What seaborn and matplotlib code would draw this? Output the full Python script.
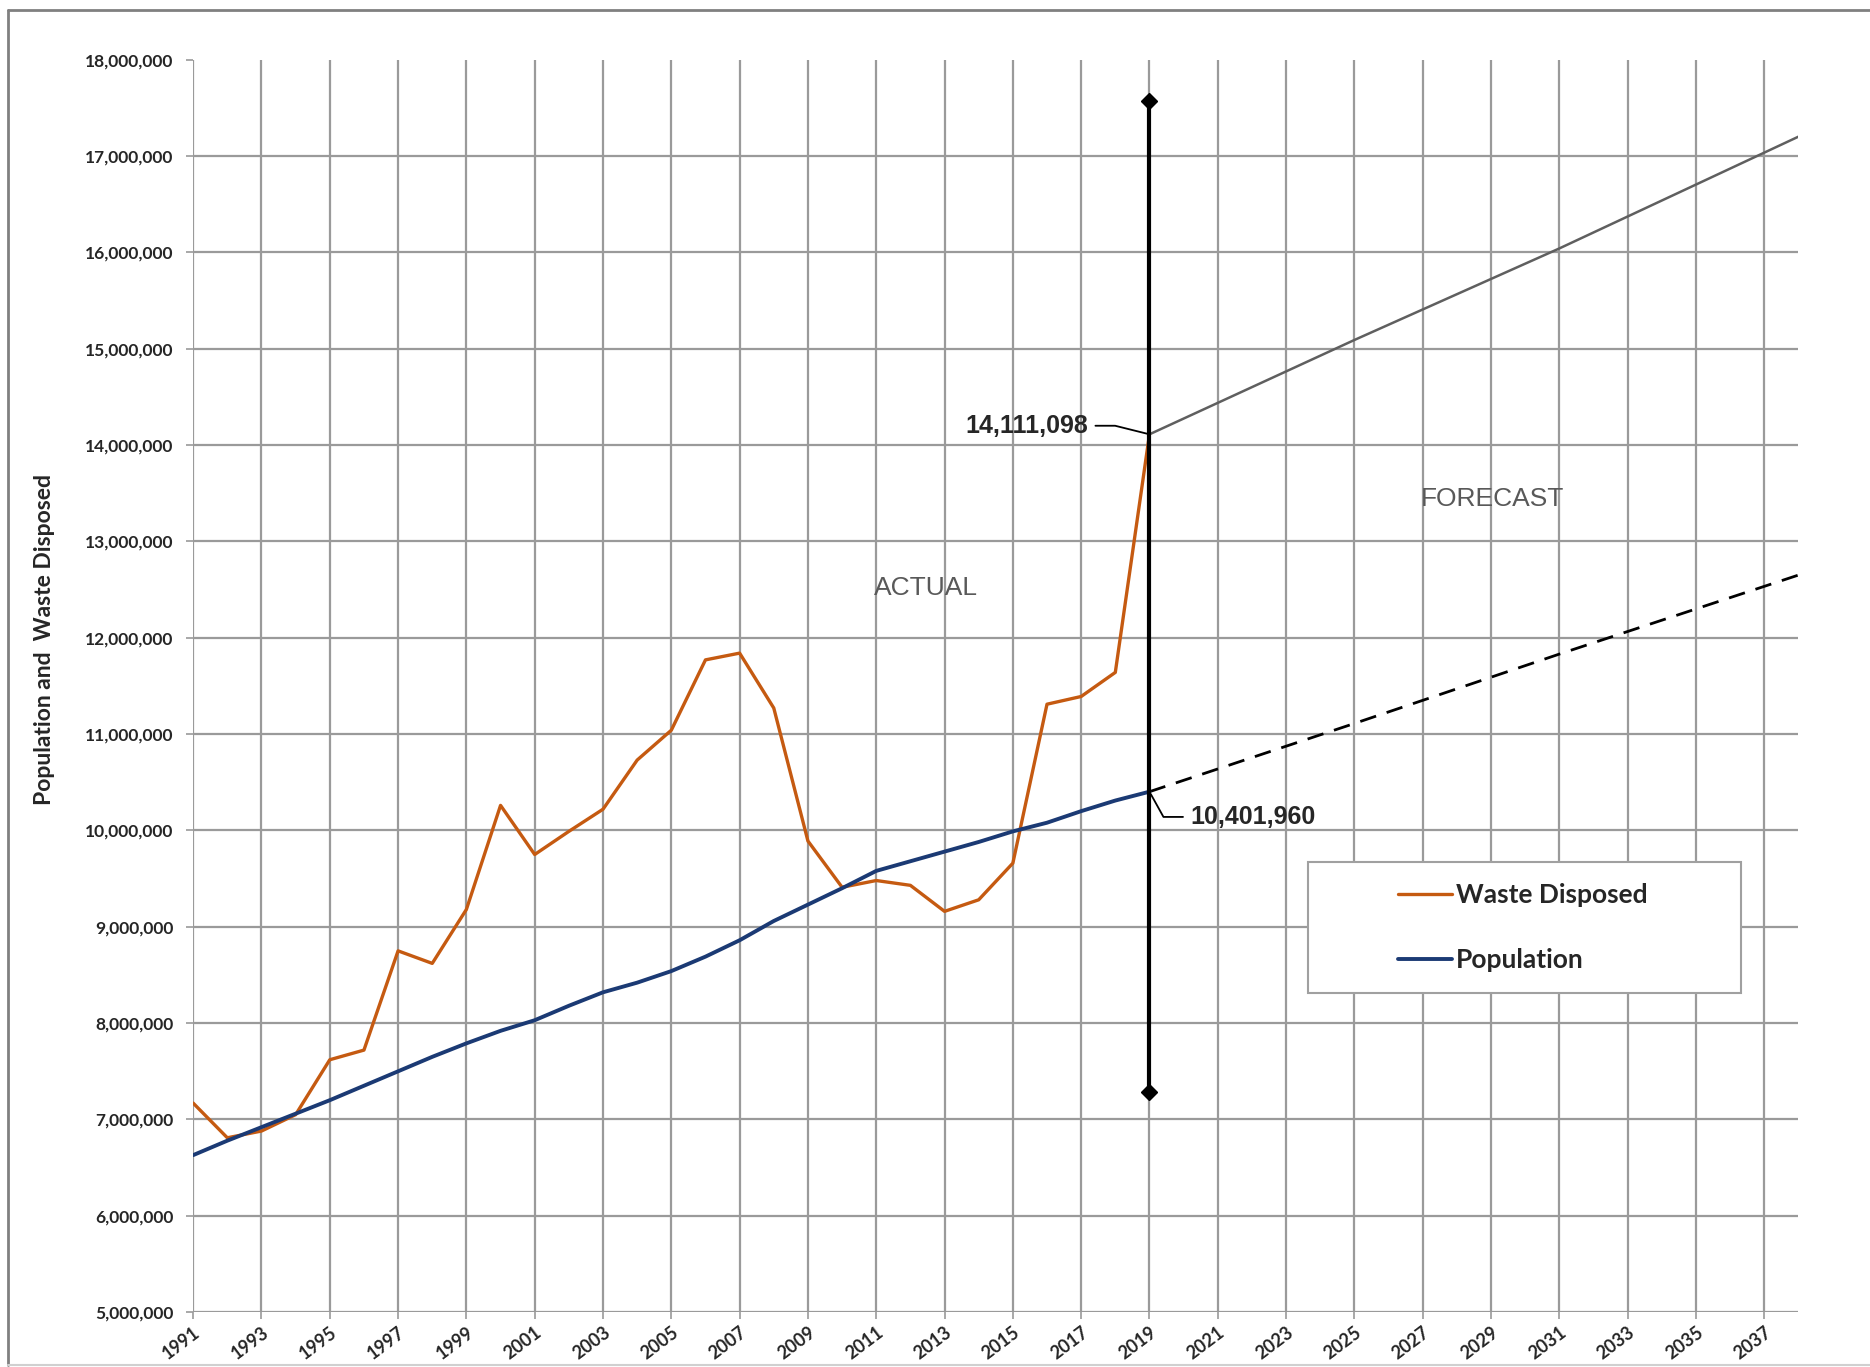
import matplotlib
matplotlib.use("Agg")
import matplotlib.pyplot as plt
from matplotlib.lines import Line2D
from matplotlib.patches import Rectangle
from matplotlib import ticker
import pandas as pd
import seaborn as sns

# %% DATA
years_actual = list(range(1991, 2020))
waste_disposed = [
    7.17e6, 6.81e6, 6.88e6, 7.05e6, 7.62e6, 7.72e6, 8.75e6, 8.62e6, 9.18e6, 10.26e6,
    9.75e6, 9.99e6, 10.22e6, 10.73e6, 11.04e6, 11.77e6, 11.84e6, 11.27e6, 9.89e6, 9.41e6,
    9.48e6, 9.43e6, 9.16e6, 9.28e6, 9.66e6, 11.31e6, 11.39e6, 11.64e6, 14111098,
]
population = [
    6.63e6, 6.78e6, 6.92e6, 7.06e6, 7.20e6, 7.35e6, 7.50e6, 7.65e6, 7.79e6, 7.92e6,
    8.03e6, 8.18e6, 8.32e6, 8.42e6, 8.54e6, 8.69e6, 8.86e6, 9.06e6, 9.23e6, 9.40e6,
    9.58e6, 9.68e6, 9.78e6, 9.88e6, 9.99e6, 10.08e6, 10.20e6, 10.31e6, 10401960,
]

years_forecast = [2019, 2025, 2031, 2038]
waste_forecast = [14111098, 15.09e6, 16.04e6, 17.20e6]
population_forecast = [10401960, 11.11e6, 11.83e6, 12.65e6]

divider_year = 2019
divider_span = [7.28e6, 17.57e6]

x_ticks = list(range(1991, 2038, 2))
y_ticks = list(range(5_000_000, 18_000_001, 1_000_000))

actual = pd.DataFrame({"year": years_actual, "waste": waste_disposed, "population": population})
forecast = pd.DataFrame({"year": years_forecast, "waste": waste_forecast, "population": population_forecast})

# %% STYLE
orange = "#C55A11"
navy = "#1B3A74"
grid_gray = "#9A9A9A"

sns.set_theme(style="white")
plt.rcParams["font.family"] = ["Lato", "DejaVu Sans"]

fig = plt.figure(figsize=(18.7, 13.67), dpi=100)
ax = fig.add_axes([0.1033, 0.0401, 0.8584, 0.9163])

# %% LINES
sns.lineplot(data=forecast, x="year", y="waste", color="#5F5F5F", lw=1.8, ax=ax, legend=False, zorder=3)
sns.lineplot(data=forecast, x="year", y="population", color="black", lw=2.0, ax=ax,
             legend=False, zorder=3, linestyle=(0, (6, 4)))
sns.lineplot(data=actual, x="year", y="waste", color=orange, lw=2.4, ax=ax,
             label="Waste Disposed", zorder=4)
sns.lineplot(data=actual, x="year", y="population", color=navy, lw=2.8, ax=ax,
             label="Population", zorder=4)

# Actual / forecast divider
ax.plot([divider_year, divider_year], divider_span, color="black", lw=3, marker="D",
        markersize=8, zorder=5)

# %% AXES
ax.set_xlim(1991, 2038)
ax.set_ylim(5_000_000, 18_000_000)
ax.set_xticks(x_ticks)
ax.set_yticks(y_ticks)
ax.yaxis.set_major_formatter(ticker.FuncFormatter(lambda v, _: f"{int(v):,}"))
for s in ax.spines.values():
    s.set_visible(False)
ax.grid(True, color=grid_gray, lw=1.6, zorder=0)
ax.yaxis.get_gridlines()[-1].set_visible(False)
ax.set_axisbelow(True)
ax.tick_params(axis="both", which="major", length=5, width=1.2, color=grid_gray,
               labelsize=12.5, bottom=True, left=True)
ax.tick_params(axis="y", pad=9)
ax.tick_params(axis="x", pad=3, labelsize=13)
for lbl in ax.get_xticklabels():
    lbl.set_rotation(37)
    lbl.set_ha("right")
    lbl.set_va("top")
    lbl.set_rotation_mode("anchor")
    lbl.set_fontweight("bold")
for lbl in ax.get_yticklabels():
    lbl.set_fontweight("bold")
ax.set_xlabel("")
ax.set_ylabel("")
fig.text(0.0236, 0.532, "Population and  Waste Disposed", rotation=90, ha="center", va="center",
         fontsize=16.5, fontweight="bold")

# %% ANNOTATIONS
ax.annotate(f"{waste_disposed[-1]:,}", xy=(divider_year, waste_disposed[-1]),
            xytext=(2017.2, 14.2e6), ha="right", va="center", fontsize=18, fontweight="bold",
            family="Liberation Sans",
            arrowprops=dict(arrowstyle="-", color="black", lw=1.3, shrinkA=3, shrinkB=0,
                            connectionstyle="angle,angleA=0,angleB=166,rad=0"))
ax.annotate(f"{population[-1]:,}", xy=(divider_year, population[-1]),
            xytext=(2020.2, 10.14e6), ha="left", va="center", fontsize=18, fontweight="bold",
            family="Liberation Sans",
            arrowprops=dict(arrowstyle="-", color="black", lw=1.3, shrinkA=3, shrinkB=2,
                            connectionstyle="angle,angleA=180,angleB=-61,rad=0"))
ax.text(2012.47, 12.52e6, "ACTUAL", ha="center", va="center", fontsize=19,
        color="#595959", family="Liberation Sans")
ax.text(2029.05, 13.44e6, "FORECAST", ha="center", va="center", fontsize=19,
        color="#595959", family="Liberation Sans")

# %% LEGEND
box = Rectangle((0.6996, 0.2736), 0.2314, 0.0958, transform=fig.transFigure,
                facecolor="white", edgecolor="#A0A0A0", lw=1.5, zorder=6, clip_on=False)
ax.add_patch(box)
handles, labels = ax.get_legend_handles_labels()
leg = ax.legend(handles, labels, loc="upper left", bbox_to_anchor=(0.7475, 0.354),
                bbox_transform=fig.transFigure, frameon=False, borderpad=0, borderaxespad=0,
                handlelength=2.05, handletextpad=0.15, labelspacing=1.55,
                prop={"size": 19, "weight": "bold"})
leg.set_zorder(7)

# %% FRAME
fig.add_artist(Line2D([0.0043, 1.0], [0.993, 0.993], transform=fig.transFigure, color="#808080", lw=2))
fig.add_artist(Line2D([0.0043, 0.0043], [0.0015, 0.993], transform=fig.transFigure, color="#808080", lw=2))
fig.add_artist(Line2D([0.0043, 1.0], [0.0015, 0.0015], transform=fig.transFigure, color="#D0D0D0", lw=1.5))

fig.savefig("out.png", dpi=100)
